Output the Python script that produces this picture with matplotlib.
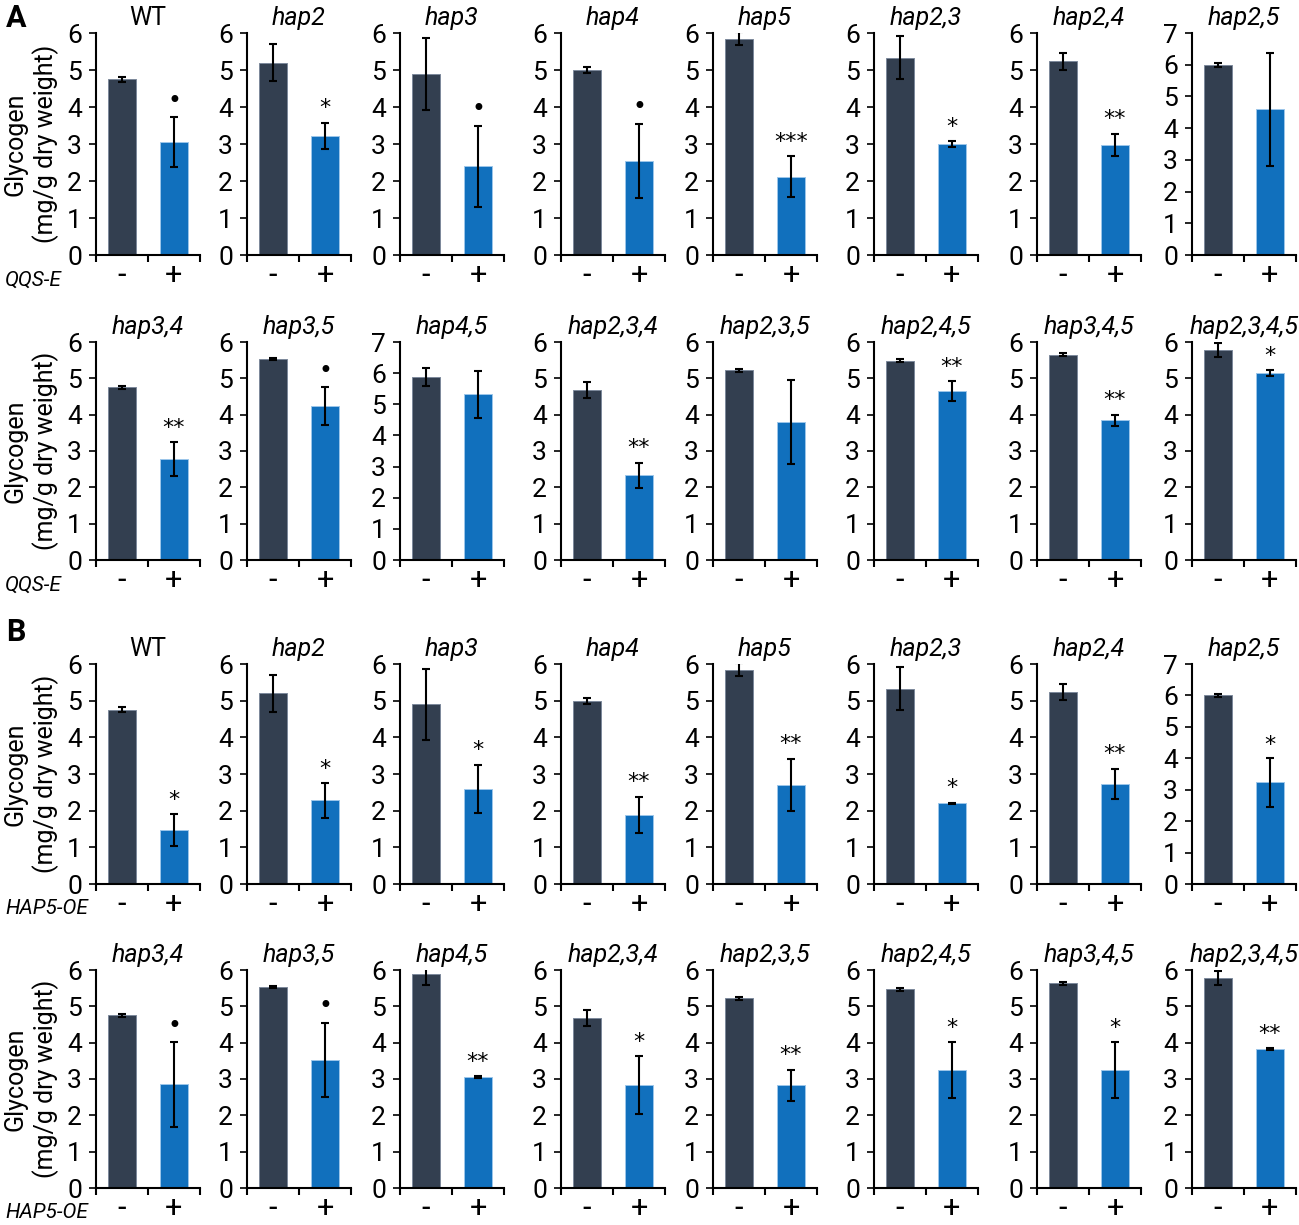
import numpy as np
import matplotlib
matplotlib.use("Agg")
import matplotlib.pyplot as plt

plt.rcParams['font.family'] = ['Roboto', 'DejaVu Sans']

# strain names for each row
names_row1 = ['WT', 'hap2', 'hap3', 'hap4', 'hap5', 'hap2,3', 'hap2,4', 'hap2,5']
names_row2 = ['hap3,4', 'hap3,5', 'hap4,5', 'hap2,3,4', 'hap2,3,5', 'hap2,4,5', 'hap3,4,5', 'hap2,3,4,5']

# panel A: QQS-E, top row
a1_ctrl = [4.75, 5.20, 4.90, 5.00, 5.85, 5.33, 5.23, 6.00]
a1_ctrl_err = [0.07, 0.50, 0.97, 0.08, 0.17, 0.58, 0.22, 0.06]
a1_trt = [3.05, 3.22, 2.40, 2.55, 2.12, 3.00, 2.98, 4.60]
a1_trt_err = [0.68, 0.35, 1.10, 1.00, 0.55, 0.07, 0.30, 1.78]
a1_sig = ['•', '*', '•', '•', '***', '*', '**', '']
a1_ymax = [6, 6, 6, 6, 6, 6, 6, 7]

# panel A: QQS-E, bottom row
a2_ctrl = [4.75, 5.53, 5.88, 4.68, 5.22, 5.48, 5.65, 5.78]
a2_ctrl_err = [0.03, 0.03, 0.28, 0.23, 0.04, 0.04, 0.04, 0.18]
a2_trt = [2.78, 4.23, 5.32, 2.33, 3.80, 4.65, 3.85, 5.15]
a2_trt_err = [0.46, 0.52, 0.75, 0.35, 1.15, 0.27, 0.15, 0.08]
a2_sig = ['**', '•', '', '**', '', '**', '**', '*']
a2_ymax = [6, 6, 7, 6, 6, 6, 6, 6]

# panel B: HAP5-OE, top row
b1_ctrl = [4.75, 5.20, 4.90, 5.00, 5.85, 5.33, 5.23, 6.00]
b1_ctrl_err = [0.07, 0.50, 0.97, 0.08, 0.17, 0.58, 0.22, 0.06]
b1_trt = [1.48, 2.28, 2.60, 1.88, 2.70, 2.20, 2.73, 3.23]
b1_trt_err = [0.43, 0.47, 0.65, 0.50, 0.72, 0.02, 0.42, 0.77]
b1_sig = ['*', '*', '*', '**', '**', '*', '**', '*']
b1_ymax = [6, 6, 6, 6, 6, 6, 6, 7]

# panel B: HAP5-OE, bottom row
b2_ctrl = [4.75, 5.53, 5.88, 4.68, 5.22, 5.47, 5.63, 5.78]
b2_ctrl_err = [0.03, 0.03, 0.28, 0.23, 0.05, 0.04, 0.05, 0.18]
b2_trt = [2.85, 3.53, 3.05, 2.83, 2.83, 3.25, 3.25, 3.82]
b2_trt_err = [1.17, 1.02, 0.03, 0.80, 0.43, 0.77, 0.77, 0.03]
b2_sig = ['•', '•', '**', '*', '**', '*', '*', '**']
b2_ymax = [6, 6, 6, 6, 6, 6, 6, 6]

groups = ['-', '+']

DARK = '#333F50'
BLUE = '#1170BD'

W, H = 1299, 1225
fig = plt.figure(figsize=(W / 100, H / 100), dpi=100)

col_left = [96, 247, 400, 561, 713, 874, 1037, 1192]
col_w = 104
# (pixel of y=0, pixel of top)
row_y = [(255, 33), (560, 342), (884, 664), (1188, 970)]

rows = [
    (names_row1, a1_ctrl, a1_ctrl_err, a1_trt, a1_trt_err, a1_sig, a1_ymax, 'QQS-E'),
    (names_row2, a2_ctrl, a2_ctrl_err, a2_trt, a2_trt_err, a2_sig, a2_ymax, 'QQS-E'),
    (names_row1, b1_ctrl, b1_ctrl_err, b1_trt, b1_trt_err, b1_sig, b1_ymax, 'HAP5-OE'),
    (names_row2, b2_ctrl, b2_ctrl_err, b2_trt, b2_trt_err, b2_sig, b2_ymax, 'HAP5-OE'),
]

for r, (names, ctrl, ctrl_err, trt, trt_err, sig, ymax, treat) in enumerate(rows):
    y0, ytop = row_y[r]
    for c in range(8):
        ax = fig.add_axes([col_left[c] / W, (H - y0) / H, col_w / W, (y0 - ytop) / H])
        xs = [0.5, 1.5]
        ax.bar(xs, [ctrl[c], trt[c]], width=0.52, color=[DARK, BLUE],
               edgecolor=['#7D899B', '#9CC6EA'], linewidth=0.7, zorder=2)
        ax.errorbar(xs, [ctrl[c], trt[c]], yerr=[ctrl_err[c], trt_err[c]], fmt='none',
                    ecolor='black', elinewidth=1.5, capsize=3, capthick=1.5, zorder=3)
        if sig[c]:
            ax.text(1.5, trt[c] + trt_err[c] + 0.12, sig[c], ha='center', va='bottom',
                    fontsize=17 if sig[c] == '•' else 16, family=['DejaVu Sans'])
        ax.set_xlim(0, 2)
        ax.set_ylim(0, ymax[c])
        ax.set_yticks(range(0, ymax[c] + 1))
        ax.set_xticks([0, 1, 2])
        ax.set_xticklabels([])
        ax.set_xticks(xs, minor=True)
        ax.set_xticklabels(groups, minor=True, fontsize=22)
        ax.tick_params(axis='x', which='major', direction='out', length=5, width=1.5)
        ax.tick_params(axis='x', which='minor', length=0, pad=4)
        ax.tick_params(axis='y', direction='out', length=5, width=1.2, labelsize=19, pad=5)
        for s in ['top', 'right']:
            ax.spines[s].set_visible(False)
        for s in ['left', 'bottom']:
            ax.spines[s].set_linewidth(1.5)
        title = names[c]
        ax.set_title(title, fontsize=18, pad=6, style='normal' if title == 'WT' else 'italic')
        if c == 0:
            ax.set_ylabel('Glycogen\n(mg/g dry weight)', fontsize=18, labelpad=6)
    fig.text(5 / W, (H - y0 - 25) / H, treat, fontsize=15, style='italic', ha='left', va='center')

fig.text(6 / W, 1 - 18 / H, 'A', fontsize=22, fontweight='bold', ha='left', va='center')
fig.text(6 / W, 1 - 632 / H, 'B', fontsize=22, fontweight='bold', ha='left', va='center')

fig.savefig('out.png', dpi=100)
